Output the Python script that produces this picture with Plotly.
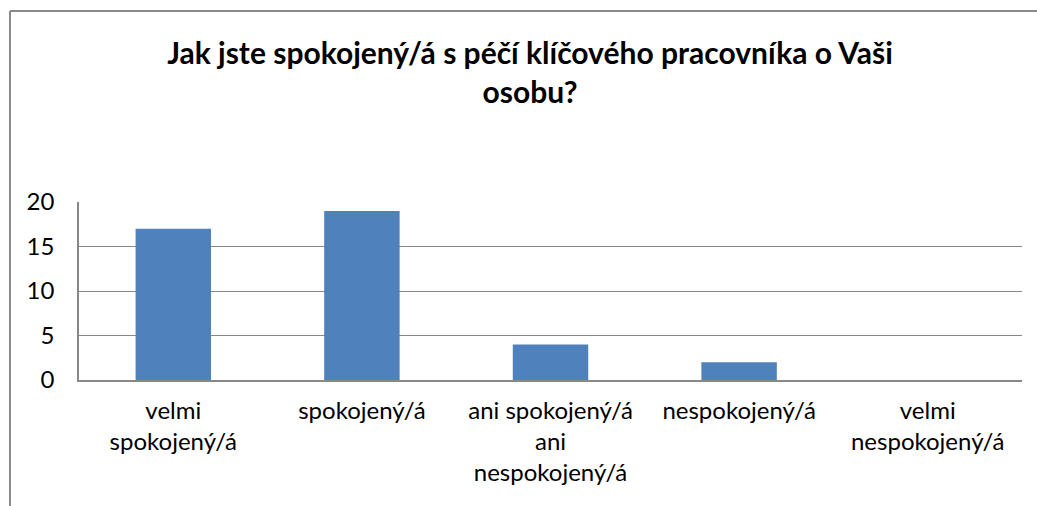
import plotly.graph_objects as go

categories = ["velmi<br>spokojený/á", "spokojený/á", "ani spokojený/á<br>ani<br>nespokojený/á",
              "nespokojený/á", "velmi<br>nespokojený/á"]
values = [17, 19, 4, 2, 0]
title_text = "Jak jste spokojený/á s péčí klíčového pracovníka o Vaši<br>osobu?"

W, H = 1037, 506
L, R, T, B = 79, 15, 202, 126
pw, ph = W - L - R, H - T - B

fig = go.Figure(go.Bar(x=categories, y=values, marker=dict(color="#4F81BD", line=dict(width=0))))

fig.update_layout(
    width=W, height=H,
    margin=dict(l=L, r=R, t=T, b=B),
    paper_bgcolor="white", plot_bgcolor="white",
    bargap=0.6,
    showlegend=False,
    font=dict(family="Lato, Open Sans, sans-serif", color="#000"),
    title=dict(text=title_text, x=(530 - L) / pw, xref="paper", xanchor="center",
               y=1 - 64 / H, yanchor="top",
               font=dict(size=30, family="Lato, Open Sans, sans-serif", weight="bold", color="#000")),
    xaxis=dict(showline=True, linecolor="#888", linewidth=1.5, tickfont=dict(size=24),
               ticks="", showgrid=False, ticklabelstandoff=8),
    yaxis=dict(range=[0, 20], dtick=5, showgrid=True, gridcolor="#888", gridwidth=1.3,
               showline=True, linecolor="#888", linewidth=1.5, tickfont=dict(size=24),
               ticks="", ticklabelstandoff=18, zeroline=False),
    shapes=[
        dict(type="line", xref="paper", yref="paper",
             x0=(10 - L) / pw, x1=(W - L) / pw, y0=1 + (T - 11) / ph, y1=1 + (T - 11) / ph,
             line=dict(color="#8a8a8a", width=2)),
        dict(type="line", xref="paper", yref="paper",
             x0=(10 - L) / pw, x1=(10 - L) / pw, y0=1 + (T - 11) / ph, y1=-(B) / ph,
             line=dict(color="#8a8a8a", width=2)),
    ],
)

fig.write_html("out.html", config={"displayModeBar": False},
               post_script="document.body.style.margin='0';")
